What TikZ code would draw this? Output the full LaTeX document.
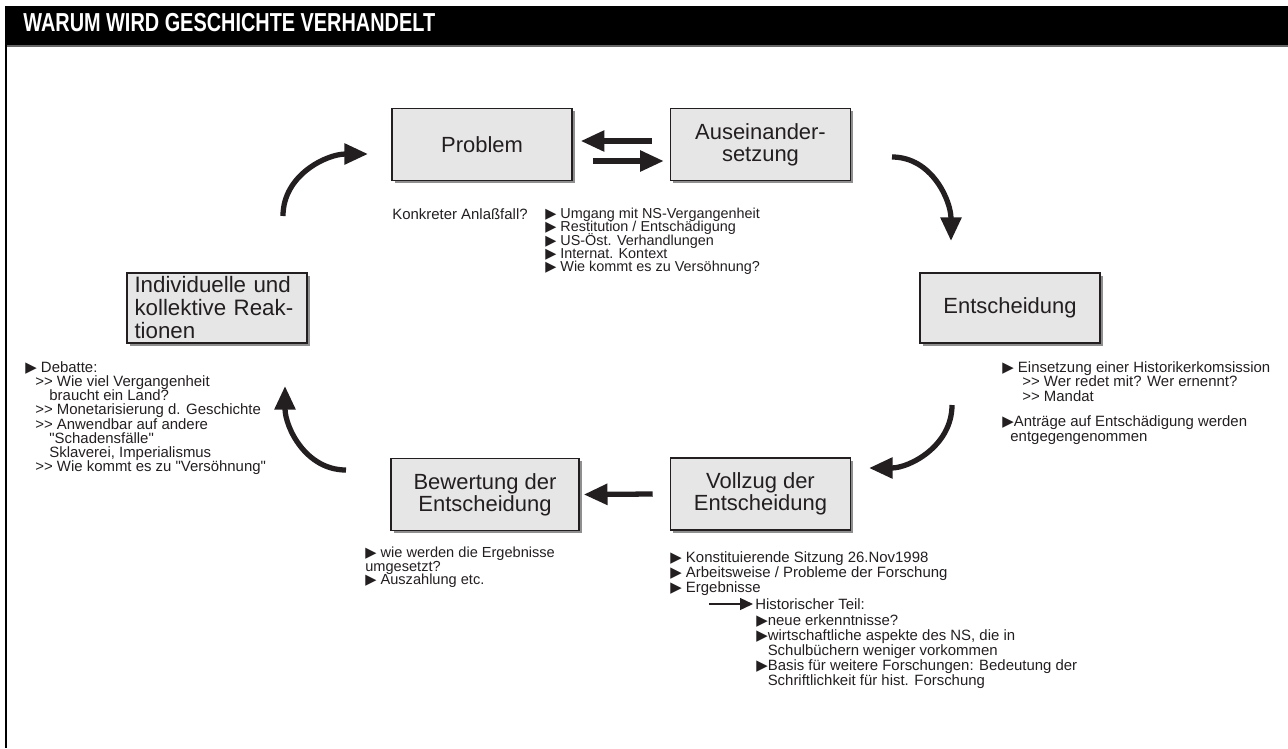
\documentclass[tikz,border=0pt]{standalone}
\usepackage{fontspec}
\setmainfont{Liberation Sans}
\newfontfamily\symfont{DejaVu Sans}
\usepackage{graphicx}
\usetikzlibrary{arrows.meta,shadows,calc}
\definecolor{boxgray}{HTML}{E6E6E7}
\definecolor{ink}{HTML}{231F20}
\newcommand{\mk}{{\symfont ▶}}
\newcommand{\rr}{>{}>}
\newcommand{\qq}{\textquotedbl}
\newcommand{\notefont}[2]{\fontsize{#1}{#2}\selectfont\lineskiplimit=-20pt\lineskip=0pt}

\begin{document}
\begin{tikzpicture}[x=0.02cm, y=-0.02cm,
	every node/.style={text=ink},
	box/.style={draw=ink, line width=0.9pt, fill=boxgray, minimum width=3.6cm, minimum height=1.44cm, inner sep=0pt, align=center,
		font=\fontsize{12.5}{12.7}\selectfont, drop shadow={shadow xshift=1.6pt, shadow yshift=-1.6pt, fill=black!55, opacity=0.8}},
	note/.style={anchor=north west, align=left, inner sep=0pt, font=\notefont{8.5}{8.5}},
	bigarrow/.style={draw=ink, line width=3pt, -{Triangle[length=13.5pt, width=11.5pt]}},
	smallarrow/.style={draw=ink, line width=0.9pt, -{Triangle[length=7.4pt, width=6.8pt]}}]
	\useasboundingbox (0,0) rectangle (1288,748);
	\fill[black] (5,6) rectangle (1288,45);
	\draw[black!60, line width=0.6pt] (5,46) -- (1288,46);
	\draw[black, line width=1.1pt] (6,45) -- (6,748);
	\node[anchor=west, inner sep=0pt, text=white, font=\bfseries\fontsize{14.8}{15}\selectfont] (title) at (23,22.5) {\scalebox{0.765}[1]{WARUM WIRD GESCHICHTE VERHANDELT}};

	\node[box] (problem) at (482,144.5) {Problem};
	\node[box] (ausein) at (760.5,144.5) {Auseinander-\\setzung};
	\node[box, minimum height=1.4cm] (entsch) at (1010,308) {Entscheidung};
	\node[box] (vollzug) at (760.5,494) {Vollzug der\\Entscheidung};
	\node[box, minimum width=3.76cm] (bewert) at (485,494.5) {Bewertung der\\Entscheidung};
	\node[box, minimum height=1.4cm, text width=3.3cm, inner xsep=0.15cm, align=left, font=\fontsize{12.7}{13.1}\selectfont] (react) at (217,308) {Individuelle und\\kollektive Reak-\\tionen};

	\draw[bigarrow] ($(ausein.west)+(-18,-3.5)$) -- ($(problem.east)+(8,-3.5)$);
	\draw[bigarrow] ($(problem.east)+(20,16.5)$) -- ($(ausein.west)+(-6,16.5)$);
	\draw[bigarrow] ($(vollzug.west)+(-17,0)$) -- ($(bewert.east)+(4,0)$);

	\coordinate (c1a) at (283,216);
	\coordinate (c1b) at (368,154);
	\coordinate (c2a) at (892,157);
	\coordinate (c2b) at (951,241);
	\coordinate (c3a) at (952,405);
	\coordinate (c3b) at (869,468);
	\coordinate (c5a) at (346,470);
	\coordinate (c5b) at (285,386);
	\draw[bigarrow] (c1a) to[out=90, in=180] (c1b);
	\draw[bigarrow] (c2a) to[out=0, in=90] (c2b);
	\draw[bigarrow] (c3a) to[out=-90, in=0] (c3b);
	\draw[bigarrow] (c5a) to[out=180, in=-90] (c5b);

	\node[note] (anlass) at (392,208) {Konkreter Anlaßfall?};
	\node[note, font={\notefont{8.2}{7.5}}] (plist) at (545,208) {\mk\ Umgang mit NS-Vergangenheit\\\mk\ Restitution / Entschädigung\\\mk\ US-Öst. Verhandlungen\\\mk\ Internat. Kontext\\\mk\ Wie kommt es zu Versöhnung?};
	\node[note, font={\notefont{8.5}{8.4}}] (elist) at (1002,361) {\mk\ Einsetzung einer Historikerkomsission\\\hspace*{11.4pt}\rr\ Wer redet mit? Wer ernennt?\\\hspace*{11.4pt}\rr\ Mandat\\[5.9pt]\mk Anträge auf Entschädigung werden\\\hspace*{4.6pt}entgegengenommen};
	\node[note, font={\notefont{8.5}{8.5}}] (vlist) at (670,551) {\mk\ Konstituierende Sitzung 26.Nov1998\\\mk\ Arbeitsweise / Probleme der Forschung\\\mk\ Ergebnisse};
	\node[anchor=west, inner sep=0pt, font={\notefont{8.5}{8.5}}] (histhead) at (755,604) {Historischer Teil:};
	\node[note, font={\notefont{8.5}{8.65}}] (hlist) at (756,614) {\mk neue erkenntnisse?\\\mk wirtschaftliche aspekte des NS, die in\\\hspace*{6.5pt}Schulbüchern weniger vorkommen\\\mk Basis für weitere Forschungen: Bedeutung der\\\hspace*{6.5pt}Schriftlichkeit für hist. Forschung};
	\coordinate (h0) at (709,604);
	\draw[smallarrow] (h0) -- ($(histhead.west)+(-2,0)$);
	\node[note, font={\notefont{8.3}{7.7}}] (blist) at (365,547) {\mk\ wie werden die Ergebnisse\\umgesetzt?\\\mk\ Auszahlung etc.};
	\node[note, font={\notefont{8.5}{8.1}}] (rlist) at (25,361) {\mk\ Debatte:\\\hspace*{5.7pt}\rr\ Wie viel Vergangenheit\\\hspace*{13.7pt}braucht ein Land?\\\hspace*{5.7pt}\rr\ Monetarisierung d. Geschichte\\\hspace*{5.7pt}\rr\ Anwendbar auf andere\\\hspace*{13.7pt}\qq Schadensfälle\qq\\\hspace*{13.7pt}Sklaverei, Imperialismus\\\hspace*{5.7pt}\rr\ Wie kommt es zu \qq Versöhnung\qq};
\end{tikzpicture}
\end{document}
